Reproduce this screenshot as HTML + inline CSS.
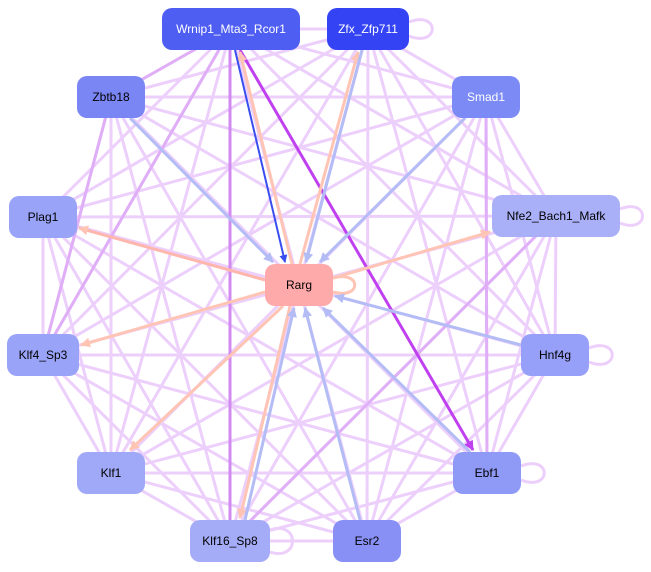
<!DOCTYPE html>
<html><head><meta charset="utf-8"><style>
html,body{margin:0;padding:0;background:#fff;}
svg{display:block;}
text{font-family:"Liberation Sans",Arial,sans-serif;font-size:12px;}
</style></head><body>
<svg width="651" height="572" viewBox="0 0 651 572" xmlns="http://www.w3.org/2000/svg">
<defs>
<marker id="al" markerWidth="6" markerHeight="6" refX="5" refY="3" orient="auto" markerUnits="userSpaceOnUse"><path d="M0,0 L6,3 L0,6z" fill="#e6c2fa"/></marker>
<marker id="ab" markerWidth="8" markerHeight="8" refX="7" refY="4" orient="auto" markerUnits="userSpaceOnUse"><path d="M0,0 L8,4 L0,8z" fill="#3a4ef0"/></marker>
<marker id="ap" markerWidth="10" markerHeight="10" refX="9" refY="5" orient="auto" markerUnits="userSpaceOnUse"><path d="M0,0 L10,5 L0,10z" fill="#c040f0"/></marker>
<marker id="apc" markerWidth="10" markerHeight="10" refX="9" refY="5" orient="auto" markerUnits="userSpaceOnUse"><path d="M0,0 L10,5 L0,10z" fill="#ffc4b4"/></marker>
<marker id="alb" markerWidth="10" markerHeight="10" refX="9" refY="5" orient="auto" markerUnits="userSpaceOnUse"><path d="M0,0 L10,5 L0,10z" fill="#b4bcf6"/></marker>
</defs>
<g stroke="#ebcafb" stroke-width="3" fill="none" opacity="0.9">
<!-- mesh -->
<line x1="231" y1="29" x2="368" y2="29"/><line x1="231" y1="29" x2="111" y2="97"/><line x1="231" y1="29" x2="486" y2="97"/>
<line x1="231" y1="29" x2="43" y2="217"/><line x1="231" y1="29" x2="556" y2="216"/><line x1="231" y1="29" x2="43" y2="355"/>
<line x1="231" y1="29" x2="555" y2="355"/><line x1="231" y1="29" x2="111" y2="473"/><line x1="231" y1="29" x2="367" y2="541"/>
<line x1="368" y1="29" x2="111" y2="97"/><line x1="368" y1="29" x2="486" y2="97"/><line x1="368" y1="29" x2="43" y2="217"/>
<line x1="368" y1="29" x2="556" y2="216"/><line x1="368" y1="29" x2="43" y2="355"/><line x1="368" y1="29" x2="555" y2="355"/>
<line x1="368" y1="29" x2="111" y2="473"/><line x1="368" y1="29" x2="487" y2="473"/><line x1="368" y1="29" x2="230" y2="541"/><line x1="368" y1="29" x2="367" y2="541"/>
<line x1="111" y1="97" x2="486" y2="97"/><line x1="111" y1="97" x2="556" y2="216"/><line x1="111" y1="97" x2="555" y2="355"/>
<line x1="111" y1="97" x2="111" y2="473"/><line x1="111" y1="97" x2="487" y2="473"/><line x1="111" y1="97" x2="230" y2="541"/><line x1="111" y1="97" x2="367" y2="541"/><line x1="111" y1="97" x2="43" y2="355"/>
<line x1="486" y1="97" x2="43" y2="217"/><line x1="486" y1="97" x2="43" y2="355"/><line x1="486" y1="97" x2="555" y2="355"/>
<line x1="486" y1="97" x2="111" y2="473"/><line x1="486" y1="97" x2="487" y2="473"/><line x1="486" y1="97" x2="230" y2="541"/><line x1="486" y1="97" x2="367" y2="541"/><line x1="486" y1="97" x2="556" y2="216"/>
<line x1="43" y1="217" x2="556" y2="216"/><line x1="43" y1="217" x2="43" y2="355"/><line x1="43" y1="217" x2="555" y2="355"/>
<line x1="43" y1="217" x2="111" y2="473"/><line x1="43" y1="217" x2="487" y2="473"/><line x1="43" y1="217" x2="230" y2="541"/><line x1="43" y1="217" x2="367" y2="541"/>
<line x1="556" y1="216" x2="43" y2="355"/><line x1="556" y1="216" x2="555" y2="355"/><line x1="556" y1="216" x2="111" y2="473"/>
<line x1="556" y1="216" x2="487" y2="473"/><line x1="556" y1="216" x2="230" y2="541"/><line x1="556" y1="216" x2="367" y2="541"/>
<line x1="43" y1="355" x2="555" y2="355"/><line x1="43" y1="355" x2="111" y2="473"/><line x1="43" y1="355" x2="487" y2="473"/>
<line x1="43" y1="355" x2="230" y2="541"/><line x1="43" y1="355" x2="367" y2="541"/>
<line x1="555" y1="355" x2="111" y2="473"/><line x1="555" y1="355" x2="487" y2="473"/><line x1="555" y1="355" x2="230" y2="541"/><line x1="555" y1="355" x2="367" y2="541"/>
<line x1="111" y1="473" x2="487" y2="473"/><line x1="111" y1="473" x2="230" y2="541"/><line x1="111" y1="473" x2="367" y2="541"/>
<line x1="487" y1="473" x2="230" y2="541"/><line x1="487" y1="473" x2="367" y2="541"/><line x1="230" y1="541" x2="367" y2="541"/>
<!-- self loops -->
<path d="M409,22 C440,10 440,48 409,36"/>
<path d="M620,209 C650,197 650,235 620,223"/>
<path d="M589,348 C620,336 620,374 589,362"/>
<path d="M521,466 C552,454 552,492 521,480"/>
<path d="M270,530 C300,520 300,562 270,552"/>
</g>
<g stroke="#dda6f6" stroke-width="3" fill="none" opacity="0.8">
<line x1="231" y1="29" x2="111" y2="97"/><line x1="231" y1="29" x2="43" y2="355"/><line x1="486" y1="97" x2="487" y2="473"/>
<line x1="556" y1="216" x2="230" y2="541"/><line x1="111" y1="97" x2="43" y2="355"/>
</g>
<!-- highlighted -->
<line x1="230" y1="50" x2="230" y2="520" stroke="#d08af0" stroke-width="3"/>
<line x1="240" y1="50" x2="473" y2="450" stroke="#c040f0" stroke-width="3" marker-end="url(#ap)"/>
<g stroke="#ffc4b4" stroke-width="3">
<line x1="300" y1="264" x2="358" y2="52" marker-end="url(#apc)"/>
<line x1="292" y1="264" x2="240" y2="52" marker-end="url(#apc)"/>
<line x1="265" y1="280" x2="79" y2="228" marker-end="url(#apc)" stroke="#ffb6ac"/>
<line x1="333" y1="278" x2="490" y2="232" marker-end="url(#apc)"/>
<line x1="265" y1="292" x2="81" y2="345" marker-end="url(#apc)"/>
<line x1="283" y1="306" x2="130" y2="450" marker-end="url(#apc)"/>
<line x1="290" y1="306" x2="240" y2="518" marker-end="url(#apc)"/>
<path d="M333,278 C362,270 362,300 333,292" fill="none"/>
</g>
<g stroke="#b4bcf6" stroke-width="3">
<line x1="130" y1="118" x2="273" y2="262" marker-end="url(#alb)"/>
<line x1="465" y1="118" x2="320" y2="262" marker-end="url(#alb)"/>
<line x1="362" y1="50" x2="306" y2="262" marker-end="url(#alb)"/>
<line x1="521" y1="345" x2="335" y2="296" marker-end="url(#alb)"/>
<line x1="470" y1="452" x2="323" y2="308" marker-end="url(#alb)"/>
<line x1="360" y1="520" x2="305" y2="308" marker-end="url(#alb)"/>
<line x1="245" y1="520" x2="294" y2="308" marker-end="url(#alb)"/>
</g>
<line x1="235" y1="50" x2="285" y2="262" stroke="#3a4ef0" stroke-width="2" marker-end="url(#ab)"/>
<!-- nodes -->
<g>
<rect x="162" y="8" width="138" height="42" rx="10" fill="#4f5ef2"/>
<text x="231" y="33" text-anchor="middle" fill="#fff">Wrnip1_Mta3_Rcor1</text>
<rect x="327" y="8" width="82" height="42" rx="10" fill="#3444f4"/>
<text x="368" y="33" text-anchor="middle" fill="#fff">Zfx_Zfp711</text>
<rect x="77" y="76" width="68" height="42" rx="10" fill="#7b86f5"/>
<text x="111" y="101" text-anchor="middle" fill="#000">Zbtb18</text>
<rect x="452" y="76" width="68" height="42" rx="10" fill="#7b8af5"/>
<text x="486" y="101" text-anchor="middle" fill="#fff">Smad1</text>
<rect x="9" y="196" width="68" height="42" rx="10" fill="#99a3f8"/>
<text x="43" y="221" text-anchor="middle" fill="#000">Plag1</text>
<rect x="492" y="195" width="128" height="42" rx="10" fill="#aab0f8"/>
<text x="556" y="220" text-anchor="middle" fill="#000">Nfe2_Bach1_Mafk</text>
<rect x="265" y="264" width="68" height="42" rx="10" fill="#ffaaaa"/>
<text x="299" y="289" text-anchor="middle" fill="#000">Rarg</text>
<rect x="7" y="334" width="72" height="42" rx="10" fill="#99a3f8"/>
<text x="43" y="359" text-anchor="middle" fill="#000">Klf4_Sp3</text>
<rect x="521" y="334" width="68" height="42" rx="10" fill="#97a0f8"/>
<text x="555" y="359" text-anchor="middle" fill="#000">Hnf4g</text>
<rect x="77" y="452" width="68" height="42" rx="10" fill="#a0a8f8"/>
<text x="111" y="477" text-anchor="middle" fill="#000">Klf1</text>
<rect x="453" y="452" width="68" height="42" rx="10" fill="#8f99f6"/>
<text x="487" y="477" text-anchor="middle" fill="#000">Ebf1</text>
<rect x="190" y="520" width="80" height="42" rx="10" fill="#a4acf8"/>
<text x="230" y="545" text-anchor="middle" fill="#000">Klf16_Sp8</text>
<rect x="333" y="520" width="68" height="42" rx="10" fill="#8890f6"/>
<text x="367" y="545" text-anchor="middle" fill="#000">Esr2</text>
</g>
</svg>
</body></html>
